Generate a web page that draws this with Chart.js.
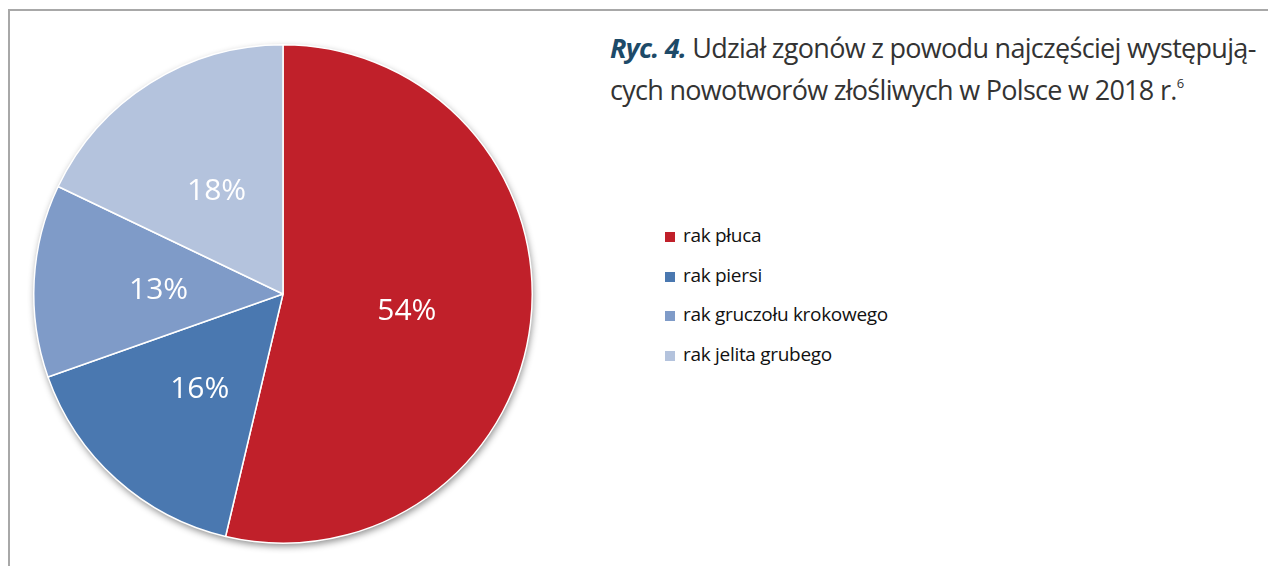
<!DOCTYPE html>
<html lang="pl">
<head>
  <meta charset="UTF-8">
  <title>Ryc. 4</title>
  <script src="https://cdn.jsdelivr.net/npm/chart.js"></script>
  <style>
    body {
      margin: 0;
      width: 1268px;
      height: 566px;
      background: #fff;
      position: relative;
      overflow: hidden;
      font-family: "Open Sans", sans-serif;
    }
    /* ramka u góry i z lewej */
    #frame {
      position: absolute;
      left: 8px;
      top: 9px;
      width: 1300px;
      height: 600px;
      border-top: 2px solid #a8a8a8;
      border-left: 2px solid #a8a8a8;
    }
    #chartBox {
      position: absolute;
      left: 23px;
      top: 34px;
      width: 520px;
      height: 520px;
    }
    #title {
      position: absolute;
      left: 610px;
      top: 27px;
      font-size: 27px;
      line-height: 42px;
      color: #333;
      letter-spacing: -0.7px;
      white-space: nowrap;
    }
    #title b {
      color: #1d4a68;
      font-style: italic;
    }
    #title sup {
      font-size: 13px;
      vertical-align: 12px;
      line-height: 0;
    }
    #legend {
      position: absolute;
      left: 665px;
      top: 221px;
      font-size: 19px;
      color: #111;
      letter-spacing: -0.3px;
    }
    #legend div {
      height: 39.5px;
      line-height: 28px;
      white-space: nowrap;
    }
    #legend span {
      display: inline-block;
      width: 10px;
      height: 10px;
      margin-right: 8px;
      vertical-align: 0px;
    }
  </style>
</head>
<body>
  <div id="frame"></div>
  <div id="title"><b>Ryc. 4.</b> Udział zgonów z powodu najczęściej występują-<br>cych nowotworów złośliwych w Polsce w 2018 r.<sup>6</sup></div>
  <div id="chartBox"><canvas id="pie"></canvas></div>
  <div id="legend"></div>

  <script>
    // dane (% zgonów)
    const categories = ['rak płuca', 'rak piersi', 'rak gruczołu krokowego', 'rak jelita grubego'];
    const shares = [53.7, 15.9, 12.5, 17.9];
    const colors = ['#c0202a', '#4a78b0', '#7f9bc8', '#b4c3dd'];

    // legenda w HTML
    const legend = document.getElementById('legend');
    categories.forEach(function(name, i) {
      const row = document.createElement('div');
      row.innerHTML = '<span style="background:' + colors[i] + '"></span>' + name;
      legend.appendChild(row);
    });

    // cień pod kołem
    const shadowPlugin = {
      id: 'pieShadow',
      beforeDatasetsDraw(chart) {
        const arc = chart.getDatasetMeta(0).data[0];
        if (!arc) return;
        const ctx = chart.ctx;
        ctx.save();
        ctx.shadowColor = 'rgba(0,0,0,0.45)';
        ctx.shadowBlur = 7;
        ctx.shadowOffsetX = 1;
        ctx.shadowOffsetY = 3;
        ctx.fillStyle = '#ffffff';
        ctx.beginPath();
        ctx.arc(arc.x, arc.y, arc.outerRadius, 0, Math.PI * 2);
        ctx.fill();
        ctx.restore();
      }
    };

    // etykiety procentowe wewnątrz wycinków
    const labelPlugin = {
      id: 'pctLabels',
      afterDatasetsDraw(chart) {
        const ctx = chart.ctx;
        const meta = chart.getDatasetMeta(0);
        ctx.save();
        ctx.fillStyle = '#ffffff';
        ctx.font = '30px "Open Sans", sans-serif';
        ctx.textAlign = 'center';
        ctx.textBaseline = 'middle';
        meta.data.forEach(function(arc, i) {
          const mid = (arc.startAngle + arc.endAngle) / 2;
          const r = arc.outerRadius * 0.5;
          const x = arc.x + Math.cos(mid) * r;
          const y = arc.y + Math.sin(mid) * r + 3;
          ctx.fillText(Math.round(shares[i]) + '%', x, y);
        });
        ctx.restore();
      }
    };

    const ctx = document.getElementById('pie').getContext('2d');
    new Chart(ctx, {
      type: 'pie',
      data: {
        labels: categories,
        datasets: [{
          data: shares,
          backgroundColor: colors,
          borderColor: '#ffffff',
          borderWidth: 1.5
        }]
      },
      options: {
        responsive: true,
        maintainAspectRatio: false,
        animation: false,
        layout: { padding: 10 },
        plugins: {
          legend: { display: false },
          tooltip: { enabled: false }
        }
      },
      plugins: [shadowPlugin, labelPlugin]
    });
  </script>
</body>
</html>
